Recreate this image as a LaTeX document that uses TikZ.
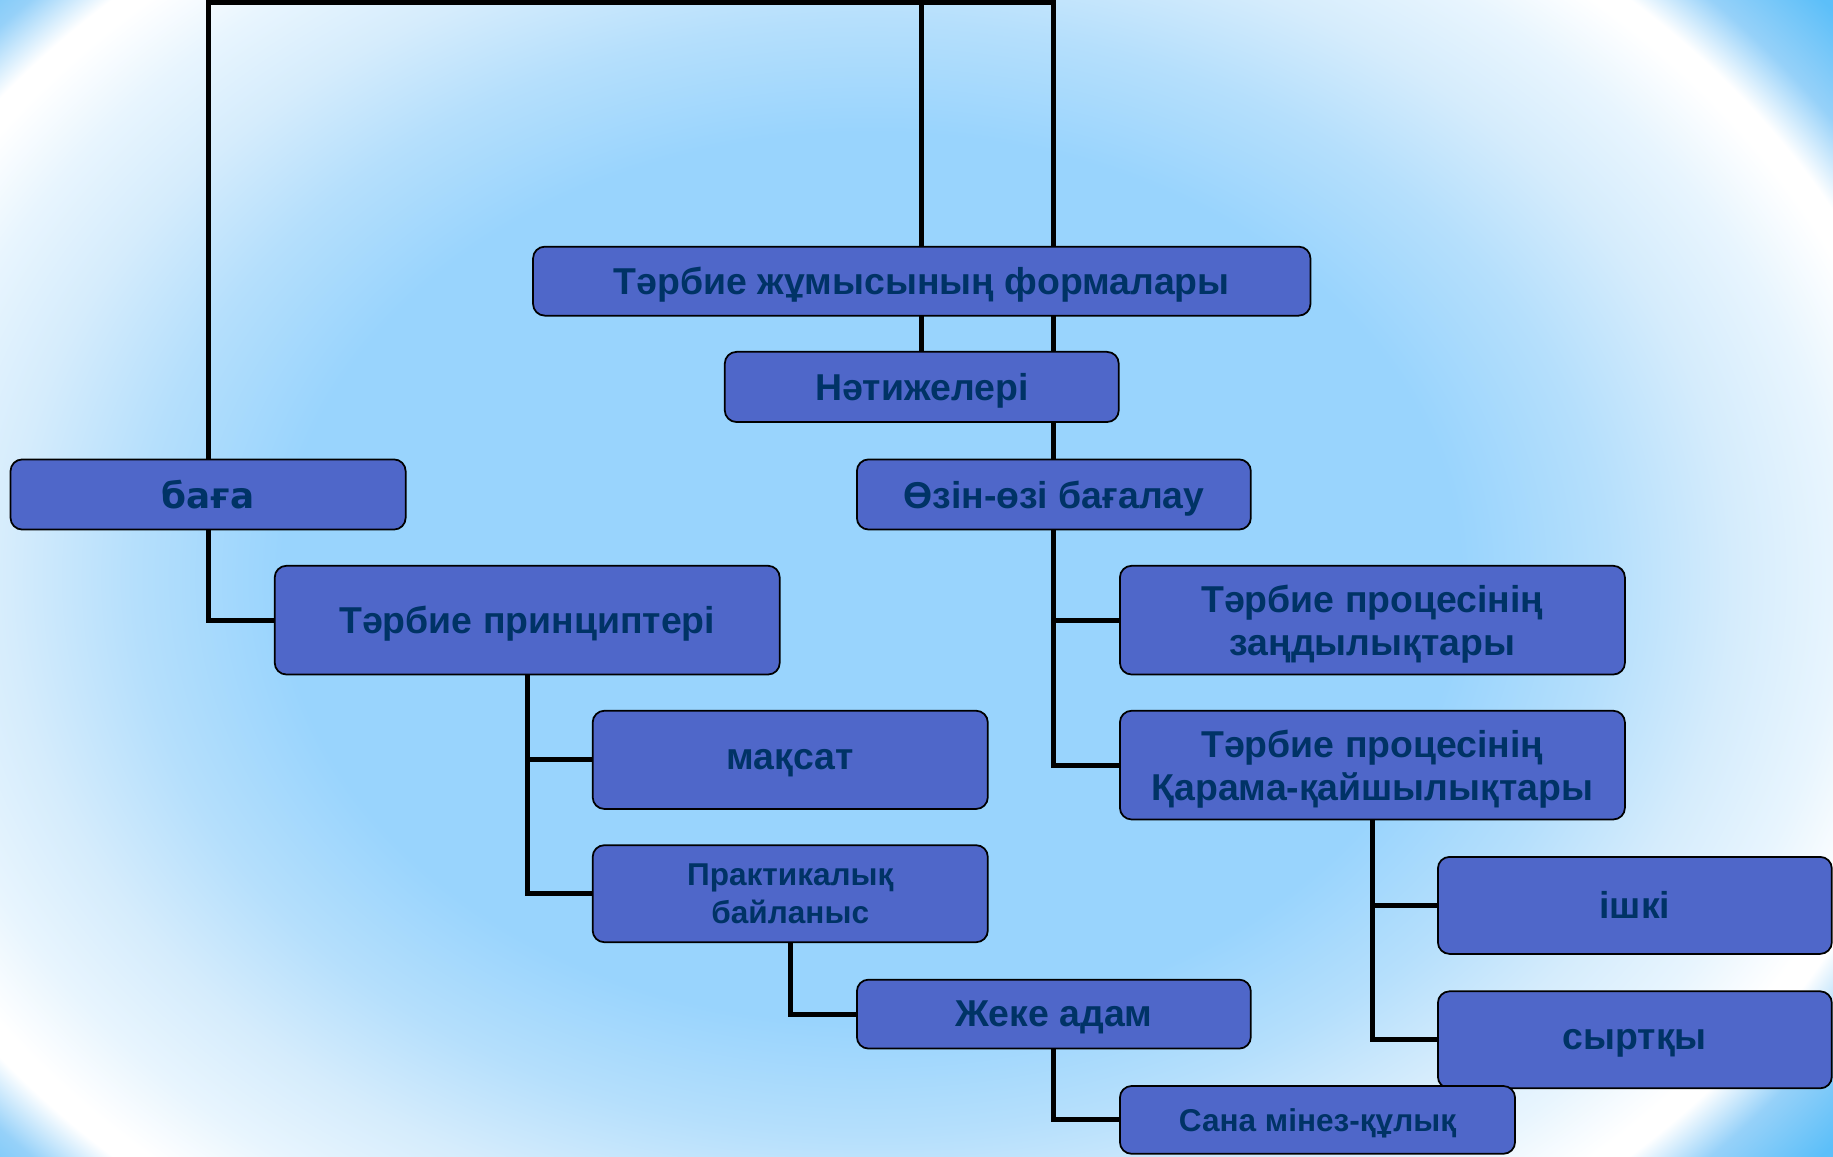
\documentclass[tikz,border=0pt]{standalone}
\usepackage{fontspec}
\setmainfont{Liberation Sans}
\newfontfamily\widefont{DejaVu Sans}
\definecolor{skyA}{HTML}{99D4FD}
\definecolor{skyB}{HTML}{B5DFFC}
\definecolor{skyC}{HTML}{D5ECFC}
\definecolor{skyF}{HTML}{E8F5FE}
\definecolor{skyD}{HTML}{96D1F9}
\definecolor{skyE}{HTML}{5CBFF9}
\definecolor{boxblue}{HTML}{4F67C9}
\definecolor{txtblue}{HTML}{003366}
\pgfdeclareradialshading{bgshade}{\pgfpoint{0bp}{0bp}}{%
  color(0bp)=(skyA); color(14bp)=(skyA); color(17.5bp)=(skyB);
  color(20.5bp)=(skyC); color(23bp)=(skyF); color(25bp)=(white); color(25.6bp)=(white);
  color(27bp)=(skyD); color(29bp)=(skyE); color(50bp)=(skyE)}
\pgfdeclarelayer{bg}
\pgfsetlayers{bg,main}
\tikzset{
  box/.style={draw=black, line width=0.75pt, fill=boxblue, rounded corners=5pt,
    text=txtblue, align=center, inner sep=0pt, text depth=0pt,
    font=\bfseries\fontsize{16}{18.5}\selectfont},
  smalltext/.style={font=\bfseries\fontsize{13.5}{16.5}\selectfont},
  widetext/.style={font=\widefont\bfseries\fontsize{15.3}{18}\selectfont},
  sz/.style 2 args={minimum width=#1*0.5pt, minimum height=#2*0.5pt},
  conn/.style={draw=black, line width=2.1pt}
}
\begin{document}
\begin{tikzpicture}[x=0.5pt, y=-0.5pt]
\useasboundingbox (0,0) rectangle (1568,989);
\coordinate (ty) at (0,2);
% boxes
\node[box, sz={665}{59}] (T1) at (788.5,240.5) {Тәрбие жұмысының формалары};
\node[box, sz={337}{60}] (N) at (788.5,331) {Нәтижелері};
\node[box, widetext, sz={338}{60}] (B) at (178,423) {баға};
\node[box, sz={337}{60}] (O) at (901.5,423) {Өзін-өзі бағалау};
\node[box, sz={432}{93}] (TP) at (451,530.5) {Тәрбие принциптері};
\node[box, sz={432}{93}] (Z) at (1174,530.5) {Тәрбие процесінің\\заңдылықтары};
\node[box, sz={338}{84}] (M) at (676,650) {мақсат};
\node[box, sz={432}{93}] (K) at (1174,654.5) {Тәрбие процесінің\\Қарама-қайшылықтары};
\node[box, smalltext, sz={338}{83}] (P) at (676,764.5) {Практикалық\\байланыс};
\node[box, sz={337}{83}] (I) at (1398.5,774.5) {ішкі};
\node[box, sz={337}{59}] (J) at (901.5,867.5) {Жеке адам};
\node[box, sz={337}{83}] (S) at (1398.5,889.5) {сыртқы};
\node[box, smalltext, sz={338}{58}] (C) at (1127,958) {Сана мінез-құлық};
% background and connectors
\begin{pgfonlayer}{bg}
  \begin{scope}
    \clip (0,0) rectangle (1568,989);
    \shade[shading=bgshade] (-155,-186) rectangle (1645,1174);
  \end{scope}
  \draw[conn] (B.north) |- (ty -| O.north) -- (O.north);
  \draw[conn] (N.north) -- (N.north |- ty);
  \draw[conn] (B.south) |- (TP.west);
  \draw[conn] (TP.south) |- (M.west);
  \draw[conn] (TP.south) |- (P.west);
  \draw[conn] (P.south) |- (J.west);
  \draw[conn] (J.south) |- (C.west);
  \draw[conn] (O.south) |- (Z.west);
  \draw[conn] (O.south) |- (K.west);
  \draw[conn] (K.south) |- (I.west);
  \draw[conn] (K.south) |- (S.west);
\end{pgfonlayer}
\end{tikzpicture}
\end{document}
